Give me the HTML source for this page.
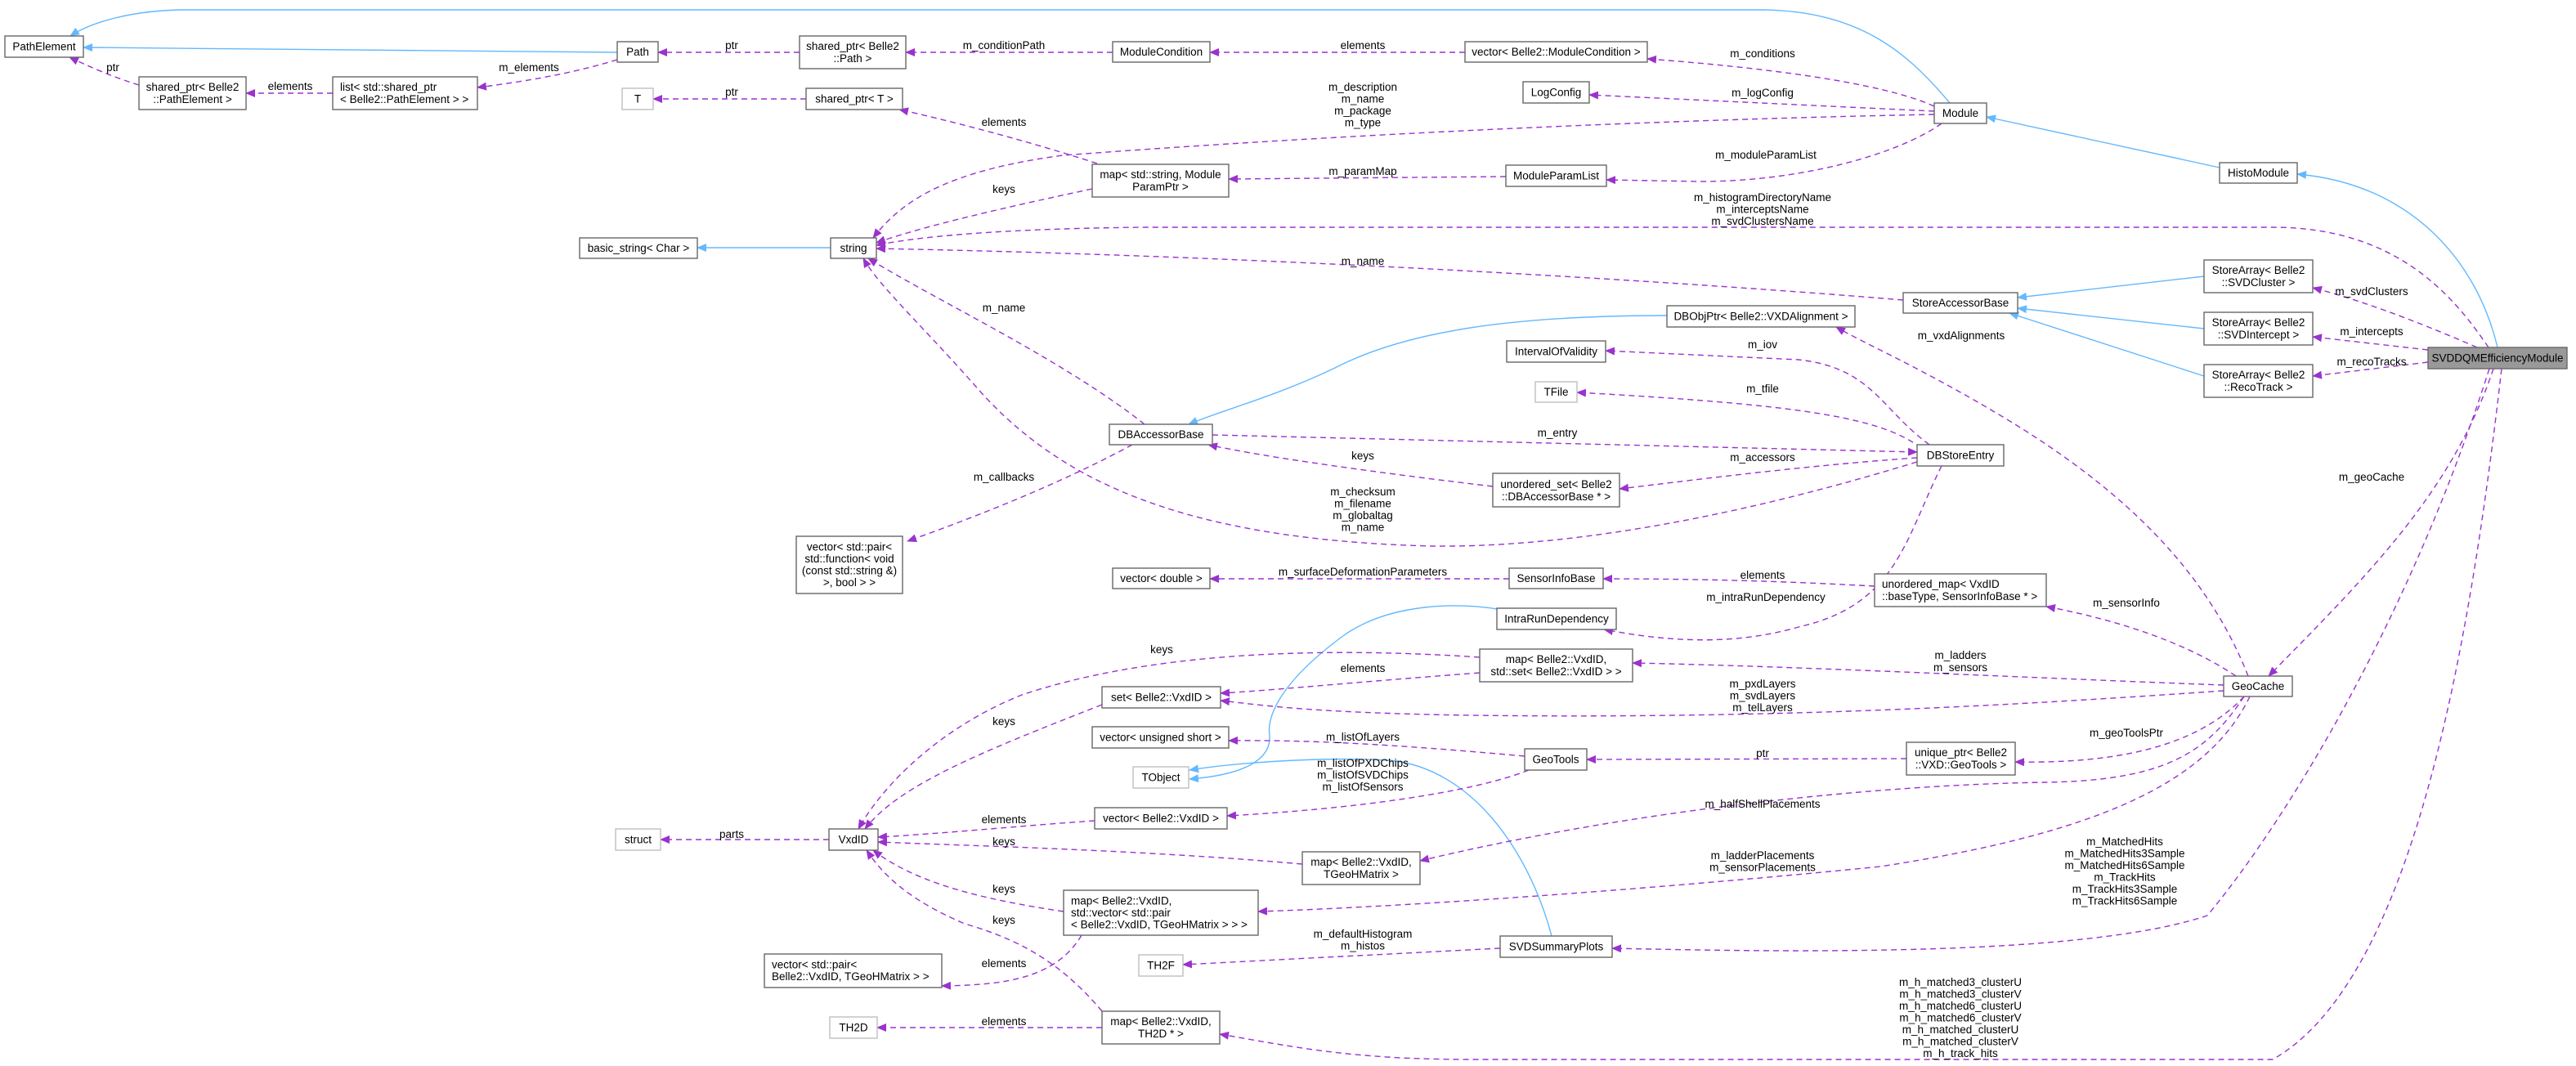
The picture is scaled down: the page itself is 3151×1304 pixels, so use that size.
<!DOCTYPE html>
<html><head><meta charset="utf-8"><style>
html,body{margin:0;padding:0;background:#fff}
svg{display:block}
text{font-family:"Liberation Sans",sans-serif;font-size:13.5px;fill:#000}
.n{fill:#fff;stroke:#666;stroke-width:1.4}
.l{fill:#fff;stroke:#bfbfbf;stroke-width:1.4}
.p{fill:none;stroke:#9a32cd;stroke-width:1.4;stroke-dasharray:7,5}
.b{fill:none;stroke:#63b8ff;stroke-width:1.4}
.c{text-anchor:middle}
</style></head><body>
<svg width="3151" height="1304" viewBox="0 0 3151 1304" xmlns="http://www.w3.org/2000/svg">
<defs>
<marker id="ap" markerWidth="12" markerHeight="10" refX="11" refY="5" orient="auto" markerUnits="userSpaceOnUse"><path d="M0,0 L12,5 L0,10 z" fill="#9a32cd"/></marker>
<marker id="ab" markerWidth="12" markerHeight="10" refX="11" refY="5" orient="auto" markerUnits="userSpaceOnUse"><path d="M0,0 L12,5 L0,10 z" fill="#63b8ff"/></marker>
</defs>

<!-- blue inheritance edges -->
<g class="b" marker-end="url(#ab)">
<path d="M2385,126 C2330,60 2270,12 2150,12 L230,12 C160,12 110,28 86,44"/>
<path d="M755,64 L102,58"/>
<path d="M2715,205 L2430,143"/>
<path d="M3055,425 C3030,320 2950,225 2810,213"/>
<path d="M2696,338 L2468,364"/>
<path d="M2696,402 L2468,377"/>
<path d="M2696,460 L2458,383"/>
<path d="M1016,303 L853,303"/>
<path d="M2039,386 C1850,386 1720,405 1633,450 C1560,485 1500,500 1454,519"/>
<path d="M1831,745 C1790,738 1700,735 1640,780 C1560,840 1550,880 1553,900 C1555,930 1520,948 1455,953"/>
<path d="M1898,1145 C1870,1040 1800,940 1700,930 C1600,925 1500,935 1455,942"/>
</g>

<!-- purple dashed edges -->
<g class="p" marker-end="url(#ap)">
<path d="M170,104 C140,95 110,82 85,70"/>
<path d="M407,114 L301,114"/>
<path d="M755,73 C700,90 640,100 584,107"/>
<path d="M978,64 L805,64"/>
<path d="M986,121 L799,121"/>
<path d="M1361,64 L1108,64"/>
<path d="M1792,64 L1480,64"/>
<path d="M2366,130 C2300,100 2150,82 2015,72"/>
<path d="M2366,136 L1944,116"/>
<path d="M2366,140 C2100,145 1700,160 1300,190 C1150,210 1100,250 1068,291"/>
<path d="M2375,151 C2320,190 2200,222 2080,222 L1965,220"/>
<path d="M1842,216 L1503,219"/>
<path d="M1342,200 C1250,170 1150,145 1100,134"/>
<path d="M1336,231 C1200,260 1120,280 1072,297"/>
<path d="M3044,425 C3000,360 2930,278 2780,278 L1400,278 C1200,280 1110,292 1072,300"/>
<path d="M2328,367 C2000,340 1500,312 1072,304"/>
<path d="M1400,519 C1300,440 1150,370 1062,316"/>
<path d="M2345,565 C2100,640 1900,670 1750,668 C1450,660 1300,590 1200,480 C1130,400 1075,350 1056,316"/>
<path d="M1483,532 L2345,553"/>
<path d="M2345,560 C2200,570 2050,590 1981,598"/>
<path d="M1826,595 C1700,580 1550,560 1478,544"/>
<path d="M2360,544 C2300,500 2290,450 2200,440 L1964,429"/>
<path d="M2350,548 C2300,510 2200,495 1929,480"/>
<path d="M1385,544 C1300,590 1200,630 1110,662"/>
<path d="M3030,425 C2950,390 2880,365 2829,352"/>
<path d="M2970,428 L2829,412"/>
<path d="M2970,443 L2829,460"/>
<path d="M2750,827 C2700,700 2600,600 2450,510 C2350,450 2280,420 2246,400"/>
<path d="M3050,451 C3000,600 2900,700 2775,827"/>
<path d="M2375,570 C2330,660 2320,740 2200,767 C2120,790 2040,785 1962,770"/>
<path d="M2293,717 C2200,712 2100,708 1961,708"/>
<path d="M1846,708 L1480,708"/>
<path d="M2735,827 C2680,790 2600,760 2503,742"/>
<path d="M2720,838 C2500,830 2200,815 1997,811"/>
<path d="M2720,845 C2500,860 2200,880 1800,875 C1600,872 1540,862 1493,857"/>
<path d="M2745,852 C2700,900 2620,935 2465,932"/>
<path d="M2332,928 L1941,929"/>
<path d="M1865,925 C1700,910 1600,905 1503,906"/>
<path d="M1870,942 C1800,970 1650,990 1501,998"/>
<path d="M2745,852 C2700,920 2650,955 2500,957 C2300,960 2000,990 1737,1053"/>
<path d="M2752,852 C2700,960 2560,1020 2300,1060 C2000,1090 1700,1110 1539,1115"/>
<path d="M3045,451 C2950,750 2800,1000 2700,1120 C2550,1170 2200,1165 1972,1160"/>
<path d="M3060,451 C3020,800 2950,1200 2780,1296 L1800,1296 C1650,1296 1580,1280 1492,1265"/>
<path d="M1835,1160 L1447,1180"/>
<path d="M1348,1257 L1073,1257"/>
<path d="M1323,1144 C1290,1200 1220,1205 1152,1206"/>
<path d="M1014,1027 L808,1027"/>
<path d="M1348,862 C1200,920 1100,960 1058,1014"/>
<path d="M1810,804 C1600,790 1400,800 1250,850 C1150,890 1080,960 1050,1014"/>
<path d="M1810,823 C1650,835 1550,845 1493,848"/>
<path d="M1339,1004 C1250,1010 1150,1020 1074,1024"/>
<path d="M1593,1057 C1400,1040 1200,1035 1074,1030"/>
<path d="M1301,1115 C1200,1100 1120,1080 1068,1040"/>
<path d="M1348,1237 C1300,1180 1250,1150 1180,1130 C1110,1100 1080,1070 1060,1040"/>
</g>

<!-- nodes -->
<rect class="n" x="6" y="44" width="96" height="26"/><text class="c" x="54" y="61.5">PathElement</text>
<rect class="n" x="755" y="51" width="50" height="25"/><text class="c" x="780" y="68">Path</text>
<rect class="n" x="170" y="94" width="131" height="40"/><text class="c" x="235.5" y="111">shared_ptr&lt; Belle2</text><text class="c" x="235.5" y="126">::PathElement &gt;</text>
<rect class="n" x="407" y="94" width="177" height="40"/><text x="416" y="111">list&lt; std::shared_ptr</text><text x="416" y="126">&lt; Belle2::PathElement &gt; &gt;</text>
<rect class="n" x="978" y="44" width="130" height="40"/><text class="c" x="1043" y="61">shared_ptr&lt; Belle2</text><text class="c" x="1043" y="76">::Path &gt;</text>
<rect class="l" x="761" y="108" width="38" height="26"/><text class="c" x="780" y="125.5">T</text>
<rect class="n" x="986" y="108" width="118" height="26"/><text class="c" x="1045" y="125.5">shared_ptr&lt; T &gt;</text>
<rect class="n" x="709" y="291" width="144" height="25"/><text class="c" x="781" y="308">basic_string&lt; Char &gt;</text>
<rect class="n" x="1016" y="291" width="56" height="25"/><text class="c" x="1044" y="308">string</text>
<rect class="n" x="1361" y="51" width="119" height="25"/><text class="c" x="1420.5" y="68">ModuleCondition</text>
<rect class="n" x="1792" y="51" width="223" height="25"/><text class="c" x="1903.5" y="68">vector&lt; Belle2::ModuleCondition &gt;</text>
<rect class="n" x="1863" y="100" width="81" height="26"/><text class="c" x="1903.5" y="117.5">LogConfig</text>
<rect class="n" x="1336" y="201" width="167" height="40"/><text class="c" x="1419.5" y="218">map&lt; std::string, Module</text><text class="c" x="1419.5" y="233">ParamPtr &gt;</text>
<rect class="n" x="1842" y="202" width="123" height="26"/><text class="c" x="1903.5" y="219.5">ModuleParamList</text>
<rect class="n" x="2366" y="126" width="64" height="25"/><text class="c" x="2398" y="143">Module</text>
<rect class="n" x="2715" y="199" width="95" height="25"/><text class="c" x="2762.5" y="216">HistoModule</text>
<rect class="n" x="2328" y="358" width="140" height="25"/><text class="c" x="2398" y="375">StoreAccessorBase</text>
<rect class="n" x="2696" y="318" width="133" height="40"/><text class="c" x="2762.5" y="335">StoreArray&lt; Belle2</text><text class="c" x="2762.5" y="350">::SVDCluster &gt;</text>
<rect class="n" x="2696" y="382" width="133" height="40"/><text class="c" x="2762.5" y="399">StoreArray&lt; Belle2</text><text class="c" x="2762.5" y="414">::SVDIntercept &gt;</text>
<rect class="n" x="2696" y="446" width="133" height="40"/><text class="c" x="2762.5" y="463">StoreArray&lt; Belle2</text><text class="c" x="2762.5" y="478">::RecoTrack &gt;</text>
<rect x="2970" y="425" width="170" height="26" fill="#999" stroke="#666" stroke-width="1.4"/><text class="c" x="3055" y="442.5">SVDDQMEfficiencyModule</text>
<rect class="n" x="2039" y="374" width="230" height="26"/><text class="c" x="2154" y="391.5">DBObjPtr&lt; Belle2::VXDAlignment &gt;</text>
<rect class="n" x="1843" y="417" width="121" height="26"/><text class="c" x="1903.5" y="434.5">IntervalOfValidity</text>
<rect class="l" x="1878" y="467" width="51" height="25"/><text class="c" x="1903.5" y="484">TFile</text>
<rect class="n" x="1357" y="519" width="126" height="25"/><text class="c" x="1420" y="536">DBAccessorBase</text>
<rect class="n" x="2345" y="544" width="106" height="26"/><text class="c" x="2398" y="561.5">DBStoreEntry</text>
<rect class="n" x="1826" y="579" width="155" height="41"/><text class="c" x="1903.5" y="597">unordered_set&lt; Belle2</text><text class="c" x="1903.5" y="612">::DBAccessorBase * &gt;</text>
<rect class="n" x="974" y="656" width="130" height="70"/><text class="c" x="1039" y="673.5">vector&lt; std::pair&lt;</text><text class="c" x="1039" y="688">std::function&lt; void</text><text class="c" x="1039" y="702.5">(const std::string &amp;)</text><text class="c" x="1039" y="717">&gt;, bool &gt; &gt;</text>
<rect class="n" x="1361" y="695" width="119" height="25"/><text class="c" x="1420.5" y="712">vector&lt; double &gt;</text>
<rect class="n" x="1846" y="695" width="115" height="25"/><text class="c" x="1903.5" y="712">SensorInfoBase</text>
<rect class="n" x="1831" y="744" width="146" height="26"/><text class="c" x="1904" y="761.5">IntraRunDependency</text>
<rect class="n" x="2293" y="702" width="210" height="40"/><text x="2302" y="719">unordered_map&lt; VxdID</text><text x="2302" y="734">::baseType, SensorInfoBase * &gt;</text>
<rect class="n" x="1810" y="794" width="187" height="40"/><text class="c" x="1903.5" y="811">map&lt; Belle2::VxdID,</text><text class="c" x="1903.5" y="826">std::set&lt; Belle2::VxdID &gt; &gt;</text>
<rect class="n" x="1348" y="840" width="145" height="26"/><text class="c" x="1420.5" y="857.5">set&lt; Belle2::VxdID &gt;</text>
<rect class="n" x="2720" y="827" width="84" height="25"/><text class="c" x="2762" y="844">GeoCache</text>
<rect class="n" x="1336" y="889" width="167" height="26"/><text class="c" x="1419.5" y="906.5">vector&lt; unsigned short &gt;</text>
<rect class="n" x="1865" y="916" width="76" height="26"/><text class="c" x="1903" y="933.5">GeoTools</text>
<rect class="n" x="2332" y="908" width="133" height="40"/><text class="c" x="2398.5" y="925">unique_ptr&lt; Belle2</text><text class="c" x="2398.5" y="940">::VXD::GeoTools &gt;</text>
<rect class="l" x="1386" y="938" width="68" height="26"/><text class="c" x="1420" y="955.5">TObject</text>
<rect class="n" x="1339" y="988" width="162" height="26"/><text class="c" x="1420" y="1005.5">vector&lt; Belle2::VxdID &gt;</text>
<rect class="l" x="753" y="1014" width="55" height="26"/><text class="c" x="780.5" y="1031.5">struct</text>
<rect class="n" x="1014" y="1014" width="60" height="26"/><text class="c" x="1044" y="1031.5">VxdID</text>
<rect class="n" x="1593" y="1042" width="144" height="40"/><text class="c" x="1665" y="1059">map&lt; Belle2::VxdID,</text><text class="c" x="1665" y="1074">TGeoHMatrix &gt;</text>
<rect class="n" x="1301" y="1089" width="238" height="55"/><text x="1310" y="1106.5">map&lt; Belle2::VxdID,</text><text x="1310" y="1121">std::vector&lt; std::pair</text><text x="1310" y="1135.5">&lt; Belle2::VxdID, TGeoHMatrix &gt; &gt; &gt;</text>
<rect class="n" x="1835" y="1145" width="137" height="26"/><text class="c" x="1903.5" y="1162.5">SVDSummaryPlots</text>
<rect class="n" x="935" y="1167" width="217" height="41"/><text x="944" y="1184.5">vector&lt; std::pair&lt;</text><text x="944" y="1199">Belle2::VxdID, TGeoHMatrix &gt; &gt;</text>
<rect class="l" x="1393" y="1168" width="54" height="26"/><text class="c" x="1420" y="1185.5">TH2F</text>
<rect class="l" x="1015" y="1244" width="58" height="26"/><text class="c" x="1044" y="1261.5">TH2D</text>
<rect class="n" x="1348" y="1237" width="144" height="40"/><text class="c" x="1420" y="1254">map&lt; Belle2::VxdID,</text><text class="c" x="1420" y="1269">TH2D * &gt;</text>

<!-- edge labels -->
<g class="c">
<text x="138" y="87">ptr</text>
<text x="355" y="110">elements</text>
<text x="647" y="87">m_elements</text>
<text x="895" y="60">ptr</text>
<text x="895" y="117">ptr</text>
<text x="1228" y="60">m_conditionPath</text>
<text x="1667" y="60">elements</text>
<text x="2156" y="70">m_conditions</text>
<text x="2156" y="118">m_logConfig</text>
<text x="1667" y="111">m_description</text><text x="1667" y="125.5">m_name</text><text x="1667" y="140">m_package</text><text x="1667" y="154.5">m_type</text>
<text x="1228" y="154">elements</text>
<text x="1667" y="214">m_paramMap</text>
<text x="1228" y="236">keys</text>
<text x="2160" y="194">m_moduleParamList</text>
<text x="2156" y="246">m_histogramDirectoryName</text><text x="2156" y="260.5">m_interceptsName</text><text x="2156" y="275">m_svdClustersName</text>
<text x="1667" y="324">m_name</text>
<text x="1228" y="381">m_name</text>
<text x="2156" y="426">m_iov</text>
<text x="2901" y="361">m_svdClusters</text>
<text x="2901" y="410">m_intercepts</text>
<text x="2901" y="447">m_recoTracks</text>
<text x="2399" y="415">m_vxdAlignments</text>
<text x="2901" y="588">m_geoCache</text>
<text x="2156" y="480">m_tfile</text>
<text x="1905" y="534">m_entry</text>
<text x="1667" y="562">keys</text>
<text x="2156" y="564">m_accessors</text>
<text x="1228" y="588">m_callbacks</text>
<text x="1667" y="606">m_checksum</text><text x="1667" y="620.5">m_filename</text><text x="1667" y="635">m_globaltag</text><text x="1667" y="649.5">m_name</text>
<text x="1667" y="704">m_surfaceDeformationParameters</text>
<text x="2156" y="708">elements</text>
<text x="2160" y="735">m_intraRunDependency</text>
<text x="2601" y="742">m_sensorInfo</text>
<text x="2398" y="806">m_ladders</text><text x="2398" y="821">m_sensors</text>
<text x="1421" y="799">keys</text>
<text x="1667" y="822">elements</text>
<text x="2156" y="841">m_pxdLayers</text><text x="2156" y="855.5">m_svdLayers</text><text x="2156" y="870">m_telLayers</text>
<text x="2601" y="901">m_geoToolsPtr</text>
<text x="1228" y="887">keys</text>
<text x="1667" y="906">m_listOfLayers</text>
<text x="2156" y="926">ptr</text>
<text x="1667" y="938">m_listOfPXDChips</text><text x="1667" y="952.5">m_listOfSVDChips</text><text x="1667" y="967">m_listOfSensors</text>
<text x="2156" y="988">m_halfShellPlacements</text>
<text x="1228" y="1007">elements</text>
<text x="895" y="1025">parts</text>
<text x="1228" y="1034">keys</text>
<text x="2156" y="1051">m_ladderPlacements</text><text x="2156" y="1065.5">m_sensorPlacements</text>
<text x="2599" y="1034">m_MatchedHits</text><text x="2599" y="1048.5">m_MatchedHits3Sample</text><text x="2599" y="1063">m_MatchedHits6Sample</text><text x="2599" y="1077.5">m_TrackHits</text><text x="2599" y="1092">m_TrackHits3Sample</text><text x="2599" y="1106.5">m_TrackHits6Sample</text>
<text x="1228" y="1092">keys</text>
<text x="1228" y="1130">keys</text>
<text x="1667" y="1147">m_defaultHistogram</text><text x="1667" y="1161.5">m_histos</text>
<text x="1228" y="1183">elements</text>
<text x="1228" y="1254">elements</text>
<text x="2398" y="1206">m_h_matched3_clusterU</text><text x="2398" y="1220.5">m_h_matched3_clusterV</text><text x="2398" y="1235">m_h_matched6_clusterU</text><text x="2398" y="1249.5">m_h_matched6_clusterV</text><text x="2398" y="1264">m_h_matched_clusterU</text><text x="2398" y="1278.5">m_h_matched_clusterV</text><text x="2398" y="1293">m_h_track_hits</text>
</g>
</svg>
</body></html>
